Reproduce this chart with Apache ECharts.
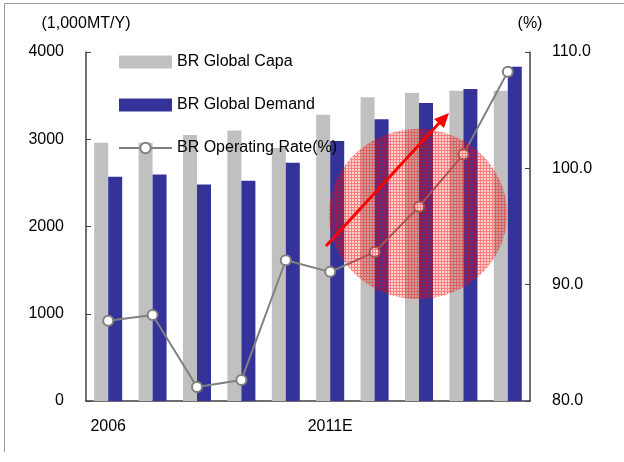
<!DOCTYPE html>
<html>
<head>
<meta charset="utf-8">
<script src="https://cdn.jsdelivr.net/npm/echarts@6/dist/echarts.min.js"></script>
<style>
html, body { margin: 0; padding: 0; background: #fff; }
#chart { width: 624px; height: 462px; }
</style>
</head>
<body>
<div id="chart"></div>
<script>
const categories = ['2006', '2007', '2008', '2009', '2010', '2011E', '2012E', '2013E', '2014E', '2015E'];
const capaValues = [2960, 2960, 3050, 3100, 2900, 3280, 3480, 3530, 3555, 3555];
const demandValues = [2570, 2595, 2480, 2525, 2730, 2980, 3230, 3415, 3575, 3830];
const rateValues = [86.9, 87.4, 81.2, 81.8, 92.1, 91.1, 92.8, 96.7, 101.2, 108.3];

// 红色网格填充（椭圆高亮）
const makeHatch = () => {
    const c = document.createElement('canvas');
    c.width = 3;
    c.height = 3;
    const ctx = c.getContext('2d');
    ctx.fillStyle = 'rgba(255,30,30,0.2)';
    ctx.fillRect(0, 0, 3, 3);
    ctx.fillStyle = 'rgba(240,0,0,0.4)';
    ctx.fillRect(0, 0, 3, 1);
    ctx.fillRect(0, 1, 1, 2);
    return c;
};

const font = 'Liberation Sans, Arial, sans-serif';
const chart = echarts.init(document.getElementById('chart'), null, { renderer: 'canvas' });

const option = {
    animation: false,
    textStyle: { fontFamily: font },
    grid: { left: 86, right: 94, top: 52, bottom: 61 },
    legend: {
        orient: 'vertical',
        left: 113,
        top: 49,
        itemWidth: 53,
        itemHeight: 13,
        itemGap: 27,
        textStyle: { fontSize: 16, color: '#000', fontFamily: font },
        data: [
            { name: 'BR Global Capa', icon: 'rect' },
            { name: 'BR Global Demand', icon: 'rect' },
            { name: 'BR Operating Rate(%)' },
        ],
    },
    xAxis: {
        type: 'category',
        data: categories,
        axisLine: { lineStyle: { color: '#404040', width: 1.5 } },
        axisTick: { inside: true, interval: 4, length: 5, lineStyle: { color: '#404040' } },
        axisLabel: { interval: 4, fontSize: 16, color: '#000', margin: 18, fontFamily: font },
    },
    yAxis: [
        {
            type: 'value',
            min: 0,
            max: 4000,
            interval: 1000,
            name: '(1,000MT/Y)',
            nameGap: 20,
            nameTextStyle: { fontSize: 16, color: '#000', fontFamily: font },
            axisLine: { show: true, lineStyle: { color: '#404040', width: 1.5 } },
            axisTick: { show: true, inside: true, length: 5, lineStyle: { color: '#404040' } },
            axisLabel: { fontSize: 16, color: '#000', margin: 22, fontFamily: font, formatter: v => String(v) },
            splitLine: { show: false },
        },
        {
            type: 'value',
            min: 80,
            max: 110,
            interval: 10,
            name: '(%)',
            nameGap: 20,
            nameTextStyle: { fontSize: 16, color: '#000', fontFamily: font },
            axisLine: { show: true, lineStyle: { color: '#404040', width: 1.5 } },
            axisTick: { show: true, inside: true, length: 5, lineStyle: { color: '#404040' } },
            axisLabel: { fontSize: 16, color: '#000', margin: 22, fontFamily: font, formatter: v => v.toFixed(1) },
            splitLine: { show: false },
        },
    ],
    series: [
        {
            name: 'BR Global Capa',
            type: 'bar',
            data: capaValues,
            barWidth: 14,
            barGap: '0%',
            itemStyle: { color: '#c0c0c0' },
        },
        {
            name: 'BR Global Demand',
            type: 'bar',
            data: demandValues,
            barWidth: 14,
            barGap: '0%',
            itemStyle: { color: '#333399' },
        },
        {
            name: 'BR Operating Rate(%)',
            type: 'line',
            yAxisIndex: 1,
            data: rateValues,
            symbol: 'circle',
            symbolSize: 10,
            lineStyle: { color: '#808080', width: 2 },
            itemStyle: { color: '#fff', borderColor: '#808080', borderWidth: 2 },
        },
    ],
    graphic: [
        // 外框
        {
            type: 'polyline',
            shape: { points: [[4.5, 452], [4.5, 3.5], [624, 3.5]] },
            style: { stroke: '#999', lineWidth: 1, fill: null },
            silent: true,
        },
        {
            type: 'ellipse',
            shape: { cx: 418, cy: 214, rx: 89, ry: 85 },
            style: { fill: { image: makeHatch(), repeat: 'repeat' } },
            z: 100,
            silent: true,
        },
        {
            type: 'line',
            shape: { x1: 326, y1: 246, x2: 441, y2: 121 },
            style: { stroke: '#ff0000', lineWidth: 3 },
            z: 101,
            silent: true,
        },
        {
            type: 'polygon',
            shape: { points: [[449, 113], [434, 119], [444, 128]] },
            style: { fill: '#ff0000' },
            z: 101,
            silent: true,
        },
    ],
};

chart.setOption(option);
</script>
</body>
</html>
